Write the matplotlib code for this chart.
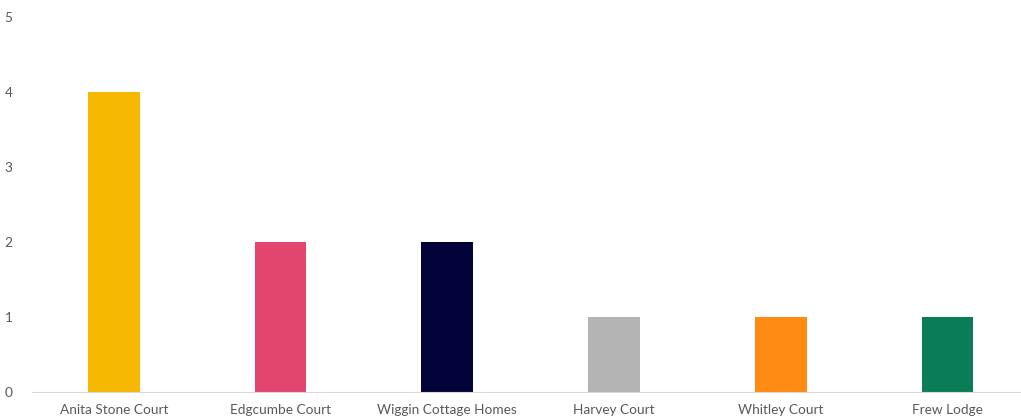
import matplotlib.pyplot as plt

homes = ['Anita Stone Court', 'Edgcumbe Court', 'Wiggin Cottage Homes',
         'Harvey Court', 'Whitley Court', 'Frew Lodge']
counts = [4, 2, 2, 1, 1, 1]
colours = ['#F6B800', '#E2466E', '#03033A', '#B4B4B4', '#FF8A14', '#0B7C58']

plt.rcParams['font.family'] = ['Lato', 'DejaVu Sans']

fig = plt.figure(figsize=(10.21, 4.18), dpi=100)
ax = fig.add_axes([32 / 1021, 26 / 418, 1 - 32 / 1021, 375 / 418])

x = range(len(homes))
ax.bar(x, counts, width=0.31, color=colours)

ax.set_xlim(-0.49, 5.44)
ax.set_ylim(0, 5)
ax.set_yticks(range(6))
ax.set_xticks(list(x))
ax.set_xticklabels(homes)

for side in ['top', 'right', 'left']:
    ax.spines[side].set_visible(False)
ax.spines['bottom'].set_color('#D9D9D9')
ax.tick_params(axis='both', length=0, labelsize=9.8, colors='#595959')
ax.tick_params(axis='y', pad=14)
ax.tick_params(axis='x', pad=9)

fig.savefig('out.png', dpi=100, facecolor='white')
